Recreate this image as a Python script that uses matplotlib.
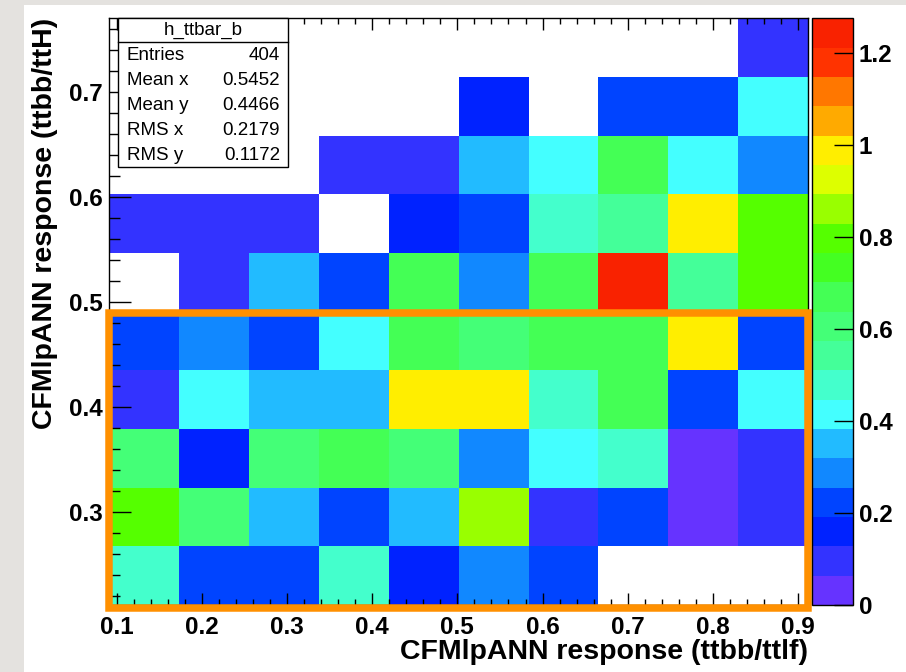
import numpy as np
import matplotlib
matplotlib.use('Agg')
import matplotlib.pyplot as plt
from matplotlib.colors import ListedColormap, BoundaryNorm
from matplotlib.patches import Rectangle
from matplotlib.ticker import MultipleLocator, FormatStrFormatter

plt.rcParams['font.family'] = ['Liberation Sans', 'DejaVu Sans']

# --- histogram binning (10 x 10) ---
x_range = (0.0915, 0.9115)
y_range = (0.211, 0.770)
n_bins = 10

# bin contents, bottom row first; nan = empty bin (not drawn)
nan = np.nan
cell_values = [
    [0.48, 0.22, 0.22, 0.48, 0.16, 0.29, 0.22, nan, nan, nan],
    [0.79, 0.60, 0.35, 0.22, 0.35, 0.86, 0.10, 0.22, 0.03, 0.10],
    [0.60, 0.16, 0.60, 0.67, 0.60, 0.29, 0.41, 0.48, 0.03, 0.10],
    [0.10, 0.41, 0.35, 0.35, 0.98, 0.98, 0.48, 0.67, 0.22, 0.41],
    [0.22, 0.29, 0.22, 0.41, 0.67, 0.60, 0.67, 0.67, 0.98, 0.22],
    [nan, 0.10, 0.35, 0.22, 0.67, 0.29, 0.67, 1.24, 0.54, 0.79],
    [0.10, 0.10, 0.10, nan, 0.16, 0.22, 0.48, 0.54, 0.98, 0.79],
    [nan, nan, nan, 0.10, 0.10, 0.35, 0.41, 0.67, 0.41, 0.29],
    [nan, nan, nan, nan, nan, 0.16, nan, 0.22, 0.22, 0.41],
    [nan, nan, nan, nan, nan, nan, nan, nan, nan, 0.10],
]

z_max = 1.275
n_contours = 20
palette = ['#6633ff', '#3333ff', '#0022ff', '#0044ff', '#1188ff',
           '#22bbff', '#44ffff', '#44ffcc', '#44ff99', '#44ff77',
           '#44ff55', '#44ff22', '#55ff00', '#99ff00', '#ddff00',
           '#ffee00', '#ffaa00', '#ff7700', '#ff3300', '#f92200']
z_ticks = [0, 0.2, 0.4, 0.6, 0.8, 1.0, 1.2]

stats_title = 'h_ttbar_b'
stats_names = ['Entries', 'Mean x', 'Mean y', 'RMS x', 'RMS y']
stats_values = ['404', '0.5452', '0.4466', '0.2179', '0.1172']

x_label = 'CFMlpANN response (ttbb/ttlf)'
y_label = 'CFMlpANN response (ttbb/ttH)'

# highlighted region (x0, y0, x1, y1) in data coordinates
cut_box = (0.0915, 0.2083, 0.9115, 0.4888)

W, H = 906, 672


def fx(px):
    return px / W


def fy(py):
    return 1 - py / H


fig = plt.figure(figsize=(W / 100, H / 100), dpi=100, facecolor='#e4e2df')
fig.add_artist(Rectangle((fx(24), 0), 1, fy(5), transform=fig.transFigure,
                         facecolor='white', edgecolor='none', zorder=0))

ax = fig.add_axes([fx(109.3), fy(605), fx(808) - fx(109.3), fy(18.4) - fy(605)])

xe = np.linspace(x_range[0], x_range[1], n_bins + 1)
ye = np.linspace(y_range[0], y_range[1], n_bins + 1)
cmap = ListedColormap(palette)
cmap.set_bad((1, 1, 1, 0))
norm = BoundaryNorm(np.linspace(0, z_max, n_contours + 1), n_contours)
mesh = ax.pcolormesh(xe, ye, np.ma.masked_invalid(np.array(cell_values)),
                     cmap=cmap, norm=norm, linewidth=0, antialiased=False)
ax.set_xlim(xe[0], xe[-1])
ax.set_ylim(ye[0], ye[-1])

ax.xaxis.set_major_locator(MultipleLocator(0.1))
ax.xaxis.set_minor_locator(MultipleLocator(0.02))
ax.yaxis.set_major_locator(MultipleLocator(0.1))
ax.yaxis.set_minor_locator(MultipleLocator(0.02))
ax.xaxis.set_major_formatter(FormatStrFormatter('%.1f'))
ax.yaxis.set_major_formatter(FormatStrFormatter('%.1f'))
ax.tick_params(which='both', direction='in', top=True, right=False,
               width=1, colors='black', labelsize=17.5)
ax.tick_params(axis='x', which='major', length=8.6, pad=8)
ax.tick_params(axis='x', which='minor', length=4.3)
ax.tick_params(axis='y', which='major', length=16, pad=4.5)
ax.tick_params(axis='y', which='minor', length=8)
for lab in ax.get_xticklabels() + ax.get_yticklabels():
    lab.set_fontweight('bold')
for sp in ax.spines.values():
    sp.set_linewidth(1)

# highlighted region
x0, y0, x1, y1 = cut_box
ax.add_patch(Rectangle((x0, y0), x1 - x0, y1 - y0, fill=False,
                       edgecolor='#ff9000', linewidth=5.4, joinstyle='miter',
                       clip_on=False, zorder=5))

# palette axis
cax = fig.add_axes([fx(811.7), fy(605), fx(853.3) - fx(811.7), fy(18.4) - fy(605)])
cb = fig.colorbar(mesh, cax=cax, ticks=z_ticks)
cb.outline.set_linewidth(1)
cb.ax.yaxis.set_major_formatter(FormatStrFormatter('%g'))
cax.tick_params(direction='in', length=14, width=1, labelsize=17.5, pad=4,
                right=True, left=False)
cax.minorticks_off()
for lab in cax.get_yticklabels():
    lab.set_fontweight('bold')

# stats box
fig.add_artist(Rectangle((fx(118.3), fy(166.7)), fx(288) - fx(118.3), fy(18.3) - fy(166.7),
                         transform=fig.transFigure, facecolor='white',
                         edgecolor='black', linewidth=1, zorder=6))
fig.add_artist(plt.Line2D([fx(118.3), fx(288)], [fy(42), fy(42)],
                          transform=fig.transFigure, color='black', lw=1, zorder=7))
fig.text(fx(203), fy(30), stats_title, ha='center', va='center', fontsize=13.5, zorder=8)
for i, (name, val) in enumerate(zip(stats_names, stats_values)):
    ypos = fy(56 + 24.8 * i)
    fig.text(fx(126.7), ypos, name, ha='left', va='center', fontsize=13.5, zorder=8)
    fig.text(fx(280), ypos, val, ha='right', va='center', fontsize=13.5, zorder=8)

# axis titles
fig.text(fx(45), fy(18), y_label, rotation=90, ha='center', va='top',
         fontsize=20.5, fontweight='bold')
fig.text(fx(808), fy(652), x_label, ha='right', va='center',
         fontsize=20.5, fontweight='bold')

fig.savefig('out.png', dpi=100, facecolor=fig.get_facecolor())
